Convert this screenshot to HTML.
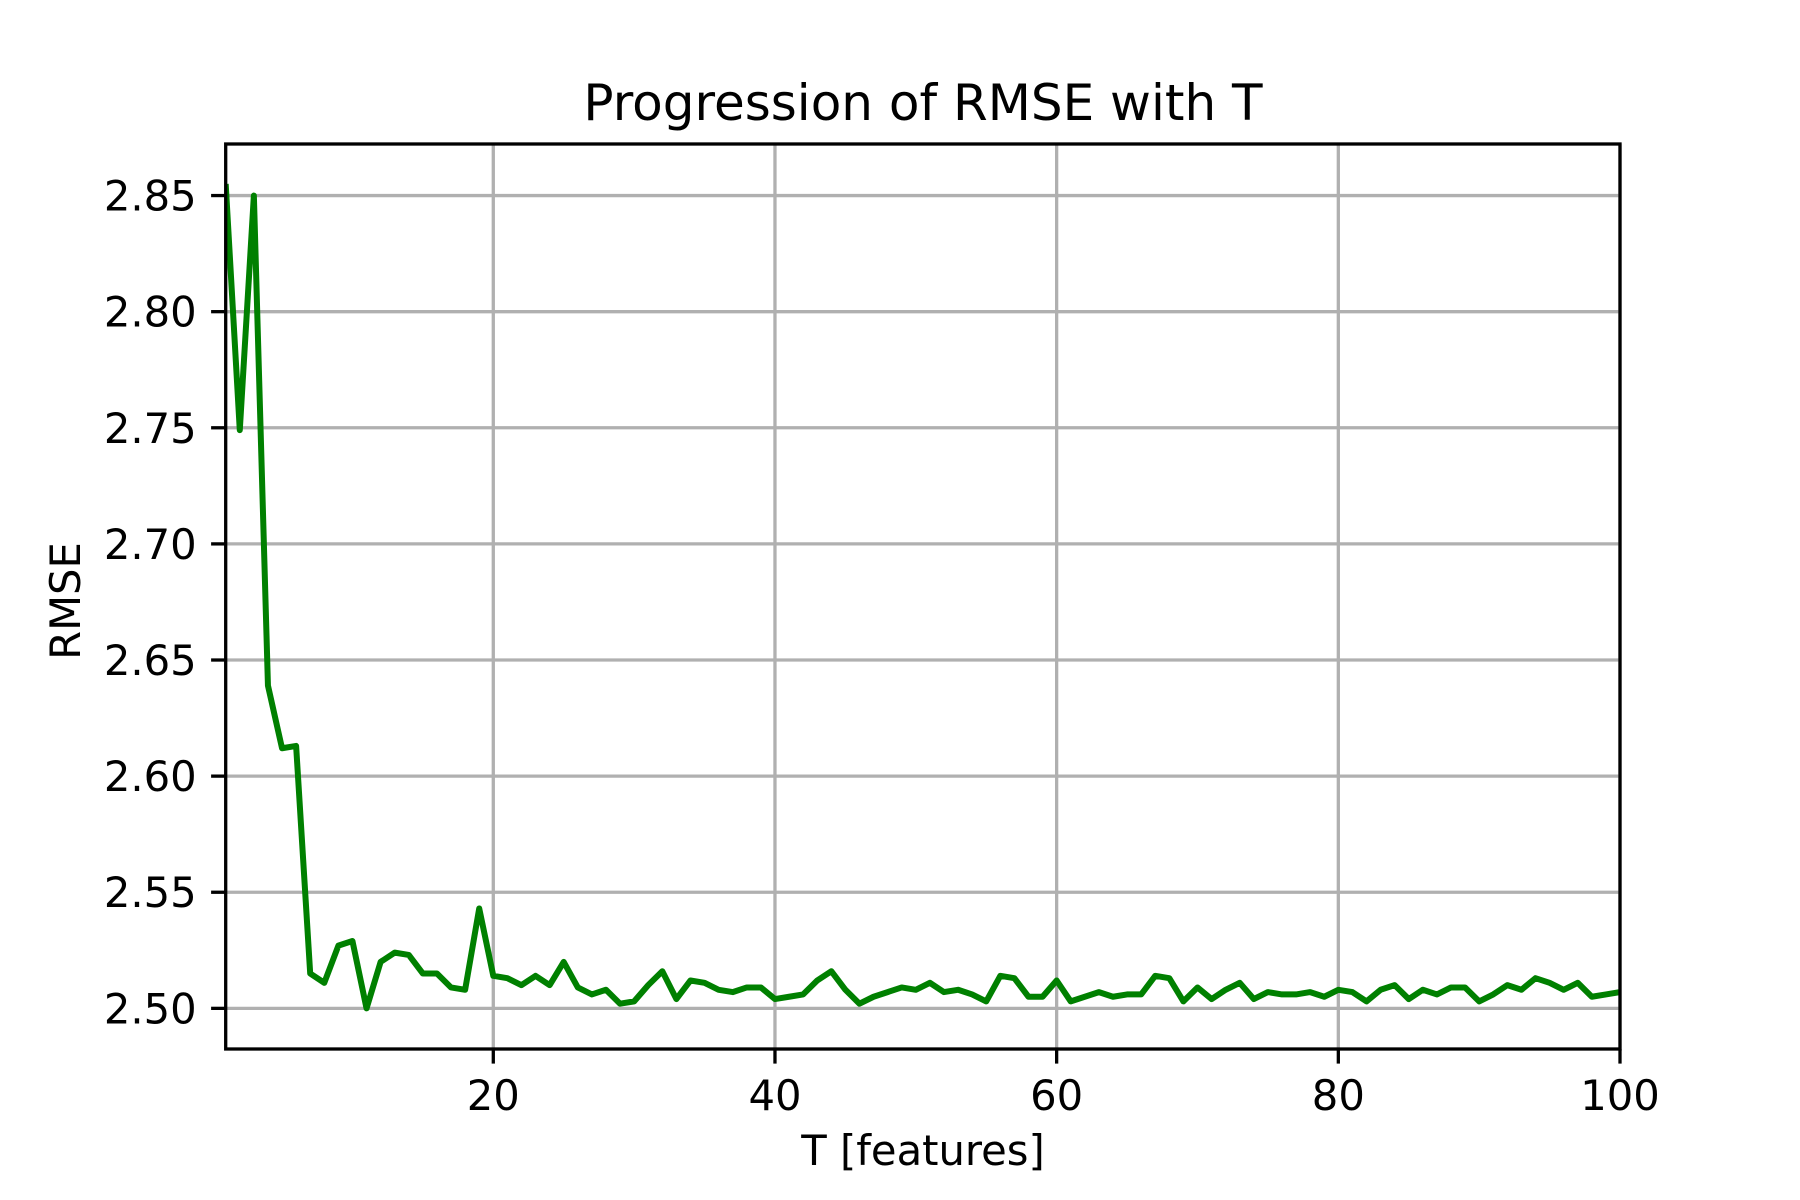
<!DOCTYPE html>
<html><head><meta charset="utf-8"><style>html,body{margin:0;padding:0;background:#fff}svg{display:block}text{font-family:"DejaVu Sans","Liberation Sans",sans-serif;fill:#000}</style></head>
<body>
<svg id="chart" width="1800" height="1200" viewBox="0 0 1800 1200" xmlns="http://www.w3.org/2000/svg">
<rect width="1800" height="1200" fill="#fff"/>
<g id="grid"></g>
<g id="series"></g>
<g id="axes"></g>
<text x="923" y="120" font-size="50" text-anchor="middle">Progression of RMSE with T</text>
<text x="923" y="1165" font-size="41.7" text-anchor="middle">T [features]</text>
<text x="0" y="0" font-size="41.7" text-anchor="middle" transform="translate(80,601) rotate(-90)">RMSE</text>
</svg>
<script>
const tValues = [];
for (let i = 1; i <= 100; i++) tValues.push(i);
const rmseValues = [2.855,2.749,2.850,2.639,2.612,2.613,2.515,2.511,2.527,2.529,
2.500,2.520,2.524,2.523,2.515,2.515,2.509,2.508,2.543,2.514,
2.513,2.510,2.514,2.510,2.520,2.509,2.506,2.508,2.502,2.503,
2.510,2.516,2.504,2.512,2.511,2.508,2.507,2.509,2.509,2.504,
2.505,2.506,2.512,2.516,2.508,2.502,2.505,2.507,2.509,2.508,
2.511,2.507,2.508,2.506,2.503,2.514,2.513,2.505,2.505,2.512,
2.503,2.505,2.507,2.505,2.506,2.506,2.514,2.513,2.503,2.509,
2.504,2.508,2.511,2.504,2.507,2.506,2.506,2.507,2.505,2.508,
2.507,2.503,2.508,2.510,2.504,2.508,2.506,2.509,2.509,2.503,
2.506,2.510,2.508,2.513,2.511,2.508,2.511,2.505,2.506,2.507];
const xTicks = [20,40,60,80,100];
const yTicks = [2.50,2.55,2.60,2.65,2.70,2.75,2.80,2.85];
const yTickLabels = ["2.50","2.55","2.60","2.65","2.70","2.75","2.80","2.85"];

const L=225.7,R=1620,T=144,B=1049;
const xMin=1,xMax=100,yMin=2.4825,yMax=2.8722;
const sx=v=>L+(v-xMin)/(xMax-xMin)*(R-L);
const sy=v=>B-(v-yMin)/(yMax-yMin)*(B-T);
const NS="http://www.w3.org/2000/svg";
function mk(tag,attrs,parent){const e=document.createElementNS(NS,tag);for(const k in attrs)e.setAttribute(k,attrs[k]);parent.appendChild(e);return e;}
const grid=document.getElementById('grid'),axes=document.getElementById('axes'),series=document.getElementById('series');
xTicks.forEach(t=>{
  const x=sx(t);
  const g=mk('line',{x1:x,x2:x,y1:T,y2:B,stroke:'#b0b0b0','stroke-width':3.3},grid);
  
  
  const tk=mk('line',{x1:x,x2:x,y1:B,y2:B+14.6,stroke:'#000','stroke-width':3.3},axes);
  
  
  const lb=mk('text',{x:x,y:B+61,'font-size':41.7,'text-anchor':'middle'},axes);
  lb.textContent=String(t);
  
  
});
yTicks.forEach((t,i)=>{
  const y=sy(t);
  const g=mk('line',{x1:L,x2:R,y1:y,y2:y,stroke:'#b0b0b0','stroke-width':3.3},grid);
  
  
  const tk=mk('line',{x1:L-14.6,x2:L,y1:y,y2:y,stroke:'#000','stroke-width':3.3},axes);
  
  
  const lb=mk('text',{x:L-29,y:y+15,'font-size':41.7,'text-anchor':'end'},axes);
  lb.textContent=yTickLabels[i];
  
  
});
const pts=tValues.map((t,i)=>sx(t).toFixed(2)+','+sy(rmseValues[i]).toFixed(2)).join(' ');
const cp=mk('clipPath',{id:'clip'},series);
mk('rect',{x:L,y:T,width:R-L,height:B-T},cp);
const line=mk('polyline',{points:pts,fill:'none',stroke:'#008000','stroke-width':6,'stroke-linejoin':'round','clip-path':'url(#clip)'},series);


const frame=mk('rect',{x:L,y:T,width:R-L,height:B-T,fill:'none',stroke:'#000','stroke-width':3.3},axes);


</script>
</body></html>
